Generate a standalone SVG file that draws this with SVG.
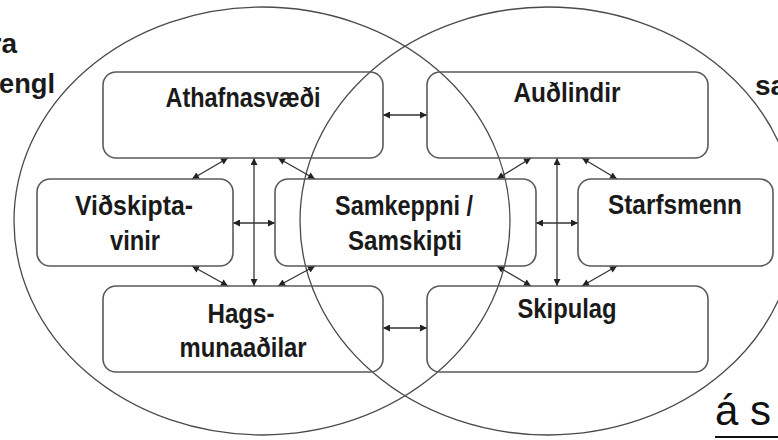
<svg xmlns="http://www.w3.org/2000/svg" width="778" height="440" viewBox="0 0 778 440">
  <defs>
    <style>
      .ell { fill: none; stroke: #4a4a4a; stroke-width: 1.3; }
      .box { fill: none; stroke: #5a5a5a; stroke-width: 1.6; }
      .lbl { font-family: "Liberation Sans", Arial, sans-serif; font-weight: bold; font-size: 28px; fill: #1a1a1a; text-anchor: middle; }
      .side { font-family: "Liberation Sans", Arial, sans-serif; font-weight: bold; font-size: 28px; fill: #1a1a1a; }
      .con { stroke: #333; stroke-width: 1.3; fill: none; marker-start: url(#ah); marker-end: url(#ah); }
    </style>
    <marker id="ah" viewBox="0 0 10 10" refX="10" refY="5" markerWidth="9" markerHeight="7" markerUnits="userSpaceOnUse" orient="auto-start-reverse">
      <path d="M0,0 L10,5 L0,10 Z" fill="#222"/>
    </marker>
  </defs>
  <rect width="778" height="440" fill="#fff"/>

  <text class="side" x="17" y="53" text-anchor="end">ra</text>
  <text class="side" x="55" y="93" text-anchor="end" textLength="56" lengthAdjust="spacingAndGlyphs">engl</text>
  <text class="side" x="755" y="95">sa</text>
  <g id="bottom-caption">
    <text x="715" y="425" font-family="Liberation Sans, Arial, sans-serif" font-size="42" fill="#111">á s</text>
    <line x1="715" y1="437" x2="778" y2="437" stroke="#111" stroke-width="2"/>
  </g>

  <g id="circles">
    <ellipse class="ell" cx="262" cy="221" rx="248" ry="214"/>
    <ellipse class="ell" cx="548" cy="221" rx="248" ry="214"/>
  </g>

  <g id="connectors">
    <line class="con" x1="383" y1="115" x2="427" y2="115"/>
    <line class="con" x1="383" y1="328" x2="427" y2="328"/>
    <line class="con" x1="254" y1="158" x2="254" y2="286"/>
    <line class="con" x1="233" y1="223" x2="275" y2="223"/>
    <line class="con" x1="228" y1="158" x2="192" y2="179"/>
    <line class="con" x1="278" y1="158" x2="315" y2="179"/>
    <line class="con" x1="192" y1="266" x2="228" y2="286"/>
    <line class="con" x1="315" y1="266" x2="278" y2="286"/>
    <line class="con" x1="557" y1="158" x2="557" y2="286"/>
    <line class="con" x1="536" y1="223" x2="578" y2="223"/>
    <line class="con" x1="531" y1="158" x2="497" y2="179"/>
    <line class="con" x1="582" y1="158" x2="617" y2="179"/>
    <line class="con" x1="497" y1="266" x2="531" y2="286"/>
    <line class="con" x1="617" y1="266" x2="582" y2="286"/>
  </g>

  <g id="athafnasvaedi">
    <rect class="box" x="103" y="72" width="280" height="86" rx="13"/>
    <text class="lbl" x="243" y="107" textLength="155" lengthAdjust="spacingAndGlyphs">Athafnasvæði</text>
  </g>
  <g id="audlindir">
    <rect class="box" x="427" y="72" width="281" height="86" rx="13"/>
    <text class="lbl" x="567" y="102" textLength="107" lengthAdjust="spacingAndGlyphs">Auðlindir</text>
  </g>
  <g id="vidskiptavinir">
    <rect class="box" x="37" y="179" width="196" height="87" rx="13"/>
    <text class="lbl" x="134" y="215" textLength="118" lengthAdjust="spacingAndGlyphs">Viðskipta-</text>
    <text class="lbl" x="135" y="250" textLength="50" lengthAdjust="spacingAndGlyphs">vinir</text>
  </g>
  <g id="samkeppni">
    <rect class="box" x="275" y="179" width="261" height="87" rx="13"/>
    <text class="lbl" x="404" y="215" textLength="138" lengthAdjust="spacingAndGlyphs">Samkeppni /</text>
    <text class="lbl" x="405" y="250" textLength="114" lengthAdjust="spacingAndGlyphs">Samskipti</text>
  </g>
  <g id="starfsmenn">
    <rect class="box" x="578" y="179" width="195" height="87" rx="13"/>
    <text class="lbl" x="675" y="214" textLength="134" lengthAdjust="spacingAndGlyphs">Starfsmenn</text>
  </g>
  <g id="hagsmunaadilar">
    <rect class="box" x="103" y="286" width="280" height="86" rx="13"/>
    <text class="lbl" x="241" y="323" textLength="67" lengthAdjust="spacingAndGlyphs">Hags-</text>
    <text class="lbl" x="243" y="357" textLength="127" lengthAdjust="spacingAndGlyphs">munaaðilar</text>
  </g>
  <g id="skipulag">
    <rect class="box" x="427" y="286" width="281" height="86" rx="13"/>
    <text class="lbl" x="567" y="318" textLength="99" lengthAdjust="spacingAndGlyphs">Skipulag</text>
  </g>
</svg>
